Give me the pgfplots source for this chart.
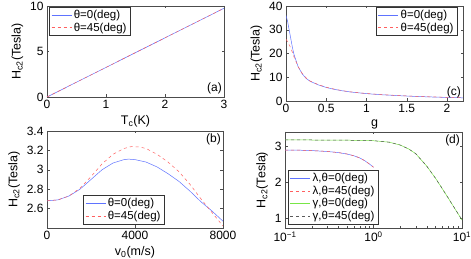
\documentclass[border=0pt]{standalone}
\usepackage{pgfplots}
\pgfplotsset{compat=1.18}
\usepackage{fontspec}
\setmainfont{Liberation Sans}
\definecolor{mblue}{RGB}{95,115,255}
\definecolor{mred}{RGB}{255,95,95}
\definecolor{mgreen}{RGB}{120,230,70}
\definecolor{mgray}{RGB}{90,90,90}
\pgfplotsset{
  myax/.style={
    scale only axis, anchor=south west,
    axis line style={black!70}, tick style={black!70},
    major tick length=2.5pt, minor tick length=1.5pt,
    tick label style={font=\fontsize{12}{14}\selectfont},
    label style={font=\fontsize{12.5}{14}\selectfont},
    /pgf/number format/assume math mode=true,
    /pgf/number format/1000 sep={},
    scaled ticks=false,
    legend style={font=\fontsize{11.5}{13}\selectfont, draw=black!80, inner xsep=2pt, inner ysep=1pt, row sep=-1.2pt},
    legend cell align=left,
    legend image code/.code={\draw[##1] (0pt,0pt) -- (20pt,0pt);},
    ylabel={H\textsubscript{c2}(Tesla)},
    every axis plot/.append style={line width=0.5pt},
  }
}
\begin{document}
\begin{tikzpicture}
\useasboundingbox (0,0) rectangle (471pt,259pt);
% (a)
\begin{axis}[myax, at={(47pt,162pt)}, width=177pt, height=91pt,
  xmin=0, xmax=3, ymin=0, ymax=10, xtick={0,1,2,3}, ytick={0,5,10},
  xlabel={T\textsubscript{c}(K)},
  legend style={at={(0.012,0.99)}, anchor=north west}]
\addplot[mblue] coordinates {(0,0) (3,9.75)};
\addplot[mred, dashed] coordinates {(0,0) (3,9.75)};
\legend{θ=0(deg), θ=45(deg)}
\node[anchor=south east, font=\fontsize{12}{14}\selectfont, inner sep=1pt] at (rel axis cs:0.995,0.02) {(a)};
\end{axis}
% (c)
\begin{axis}[myax, at={(286pt,158pt)}, width=177pt, height=95pt,
  xmin=0, xmax=2.2, ymin=0, ymax=40, xtick={0,0.5,1,1.5,2}, ytick={0,10,20,30,40},
  xlabel={g},
  legend style={at={(0.97,0.99)}, anchor=north east}]
\addplot[mblue] coordinates {(0,36) (0.02,33.5) (0.05,28) (0.08,22.5) (0.1,19.5) (0.15,14.5) (0.2,11.5) (0.25,9.5) (0.3,8.3) (0.4,6.8) (0.5,5.7) (0.6,4.9) (0.7,4.3) (0.8,3.8) (1.0,3.1) (1.2,2.6) (1.4,2.25) (1.6,1.95) (1.8,1.7) (2.0,1.5) (2.2,1.35)};
\addplot[mred, dashed] coordinates {(0,26) (0.02,25) (0.05,23) (0.08,20.5) (0.1,18.5) (0.15,14.5) (0.2,11.7) (0.25,9.7) (0.3,8.4) (0.4,6.9) (0.5,5.8) (0.6,5.0) (0.7,4.35) (0.8,3.85) (1.0,3.15) (1.2,2.65) (1.4,2.3) (1.6,2.0) (1.8,1.75) (2.0,1.55) (2.2,1.4)};
\legend{θ=0(deg), θ=45(deg)}
\node[anchor=south east, font=\fontsize{12}{14}\selectfont, inner sep=1pt] at (rel axis cs:0.995,0.02) {(c)};
\end{axis}
% (b)
\begin{axis}[myax, at={(47pt,31pt)}, width=176pt, height=97pt,
  xmin=0, xmax=8000, ymin=2.4, ymax=3.4, xtick={0,4000,8000}, ytick={2.6,2.8,3,3.2,3.4},
  xlabel={v\textsubscript{0}(m/s)},
  legend style={at={(0.205,0.04)}, anchor=south west}]
\addplot[mblue] coordinates {(0,2.68) (500,2.69) (1000,2.73) (1500,2.80) (2000,2.90) (2500,3.00) (3000,3.07) (3500,3.105) (3700,3.11) (4000,3.105) (4500,3.08) (5000,3.03) (5500,2.96) (6000,2.88) (6500,2.78) (7000,2.67) (7500,2.575) (8000,2.47)};
\addplot[mred, dashed] coordinates {(0,2.68) (500,2.69) (1000,2.73) (1500,2.81) (2000,2.93) (2500,3.06) (3000,3.16) (3500,3.22) (3850,3.24) (4200,3.235) (4500,3.22) (5000,3.16) (5500,3.08) (6000,2.98) (6500,2.85) (7000,2.70) (7500,2.56) (8000,2.42)};
\legend{θ=0(deg), θ=45(deg)}
\node[anchor=north east, font=\fontsize{12}{14}\selectfont, inner sep=1pt] at (rel axis cs:0.995,0.98) {(b)};
\end{axis}
% (d)
\begin{axis}[myax, at={(285pt,31pt)}, width=177pt, height=96pt,
  xmode=log, xmin=0.1, xmax=10, xtick={0.1,1,10},
  xticklabels={10\textsuperscript{−1}, 10\textsuperscript{0}, 10\textsuperscript{1}},
  ytick={0,1,2,3},
  legend style={at={(0.017,0.04)}, anchor=south west}]
\addplot[mblue] coordinates {(0.1,2.9) (0.15,2.895) (0.2,2.885) (0.3,2.86) (0.4,2.83) (0.5,2.79) (0.6,2.74) (0.7,2.68) (0.8,2.6) (0.9,2.51) (1.0,2.42)};
\addplot[mred, dashed] coordinates {(0.1,2.9) (0.15,2.895) (0.2,2.885) (0.3,2.86) (0.4,2.83) (0.5,2.79) (0.6,2.74) (0.7,2.68) (0.8,2.6) (0.9,2.51) (1.0,2.42)};
\addplot[mgreen] coordinates {(0.1,3.18) (0.2,3.18) (0.5,3.175) (1,3.16) (1.5,3.12) (2,3.04) (2.5,2.93) (3,2.8) (4,2.45) (5,2.12) (6,1.82) (7,1.56) (8,1.33) (9,1.13) (10,0.95)};
\addplot[mgray, dashed] coordinates {(0.1,3.18) (0.2,3.18) (0.5,3.175) (1,3.16) (1.5,3.12) (2,3.04) (2.5,2.93) (3,2.8) (4,2.45) (5,2.12) (6,1.82) (7,1.56) (8,1.33) (9,1.13) (10,0.95)};
\legend{{λ,θ=0(deg)}, {λ,θ=45(deg)}, {γ,θ=0(deg)}, {γ,θ=45(deg)}}
\node[anchor=north east, font=\fontsize{12}{14}\selectfont, inner sep=1pt] at (rel axis cs:0.995,0.98) {(d)};
\end{axis}
\end{tikzpicture}
\end{document}
